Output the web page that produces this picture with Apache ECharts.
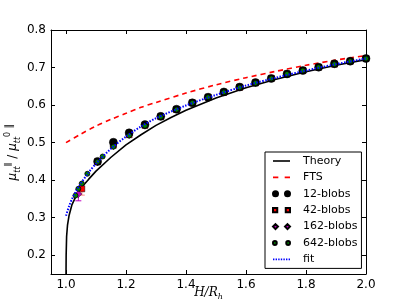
<!DOCTYPE html>
<html><head><meta charset="utf-8">
<script src="https://cdn.jsdelivr.net/npm/echarts@6/dist/echarts.min.js"></script>
<style>html,body{margin:0;padding:0;background:#fff}#c{width:407px;height:305px}</style>
</head><body><div id="c"></div>
<script>
// ---- data ----
const xTicks = [1.0, 1.2, 1.4, 1.6, 1.8, 2.0];
const yTicks = [0.2, 0.3, 0.4, 0.5, 0.6, 0.7, 0.8];

const theoryX = [1.0, 1.0005, 1.002, 1.005, 1.01, 1.02, 1.035, 1.05, 1.075, 1.1, 1.15, 1.2, 1.25, 1.3, 1.35, 1.4, 1.5, 1.6, 1.7, 1.8, 1.9, 2.0];
const theoryY = [0.14, 0.2, 0.25, 0.28, 0.305, 0.335, 0.36, 0.379, 0.402, 0.424, 0.461, 0.494, 0.521, 0.546, 0.567, 0.586, 0.619, 0.646, 0.669, 0.689, 0.706, 0.721];

const ftsX = [1.0, 1.05, 1.1, 1.15, 1.2, 1.25, 1.3, 1.4, 1.5, 1.6, 1.7, 1.8, 1.9, 2.0];
const ftsY = [0.5, 0.523, 0.544, 0.562, 0.578, 0.594, 0.607, 0.632, 0.654, 0.673, 0.690, 0.706, 0.720, 0.732];

const b12X = [1.1053, 1.1579, 1.2105, 1.2632, 1.3158, 1.3684, 1.4211, 1.4737, 1.5263, 1.5789, 1.6316, 1.6842, 1.7368, 1.7895, 1.8421, 1.8947, 1.9474, 2.0];
const b12Y = [0.450, 0.501, 0.526, 0.548, 0.570, 0.589, 0.606, 0.621, 0.635, 0.648, 0.660, 0.671, 0.683, 0.692, 0.701, 0.710, 0.717, 0.724];

const b42X = [1.0526, 1.1053, 1.1579, 1.2105, 1.2632, 1.3158, 1.3684, 1.4211, 1.4737, 1.5263, 1.5789, 1.6316, 1.6842, 1.7368, 1.7895, 1.8421, 1.8947, 1.9474, 2.0];
const b42Y = [0.377, 0.449, 0.493, 0.521, 0.546, 0.569, 0.588, 0.606, 0.621, 0.634, 0.647, 0.659, 0.671, 0.683, 0.692, 0.701, 0.709, 0.717, 0.724];
const b42ErrX = [1.0526];
const b42ErrLo = [0.360];
const b42ErrHi = [0.392];

const b162X = [1.0411, 1.1053, 1.1579, 1.2105, 1.2632, 1.3158, 1.3684, 1.4211, 1.4737, 1.5263, 1.5789, 1.6316, 1.6842, 1.7368, 1.7895, 1.8421, 1.8947, 1.9474, 2.0];
const b162Y = [0.363, 0.448, 0.491, 0.520, 0.545, 0.569, 0.588, 0.606, 0.621, 0.634, 0.647, 0.659, 0.671, 0.683, 0.692, 0.701, 0.709, 0.717, 0.724];
const b162ErrX = [1.0411];
const b162ErrLo = [0.345];
const b162ErrHi = [0.375];

const b642X = [1.0316, 1.0411, 1.0526, 1.0711, 1.1053, 1.1222, 1.1579, 1.2105, 1.2632, 1.3158, 1.3684, 1.4211, 1.4737, 1.5263, 1.5789, 1.6316, 1.6842, 1.7368, 1.7895, 1.8421, 1.8947, 1.9474, 2.0];
const b642Y = [0.359, 0.377, 0.391, 0.417, 0.449, 0.463, 0.489, 0.519, 0.545, 0.569, 0.588, 0.606, 0.621, 0.634, 0.647, 0.659, 0.671, 0.683, 0.692, 0.701, 0.709, 0.717, 0.724];

const fitX = [1.0, 1.01, 1.02, 1.035, 1.05, 1.075, 1.1, 1.15, 1.2, 1.25, 1.3, 1.4, 1.5, 1.6, 1.7, 1.8, 1.9, 2.0];
const fitY = [0.305, 0.33, 0.35, 0.373, 0.392, 0.42, 0.444, 0.484, 0.516, 0.543, 0.565, 0.599, 0.627, 0.652, 0.673, 0.692, 0.709, 0.724];

// ---- chart ----
const zip = (a, b) => a.map((v, i) => [v, b[i]]);
const zip3 = (a, b, c) => a.map((v, i) => [v, b[i], c[i]]);
const chart = echarts.init(document.getElementById('c'), null, {renderer: 'canvas'});
const FONT = 'DejaVu Sans';

function errRender(color, width) {
  return function (params, api) {
    const x = api.value(0), lo = api.value(1), hi = api.value(2);
    const p1 = api.coord([x, lo]), p2 = api.coord([x, hi]);
    const cw = 3;
    const st = {stroke: color, lineWidth: width};
    return {type: 'group', children: [
      {type: 'line', shape: {x1: p1[0], y1: p1[1], x2: p2[0], y2: p2[1]}, style: st},
      {type: 'line', shape: {x1: p1[0] - cw, y1: p1[1], x2: p1[0] + cw, y2: p1[1]}, style: st},
      {type: 'line', shape: {x1: p2[0] - cw, y1: p2[1], x2: p2[0] + cw, y2: p2[1]}, style: st}
    ]};
  };
}

const axisCommon = {
  type: 'value',
  axisLine: {show: true, onZero: false, lineStyle: {color: '#000', width: 1}},
  splitLine: {show: false},
  axisTick: {show: true, inside: true, length: 4, lineStyle: {color: '#000', width: 1}}
};

const iconLine = 'path://M0,0h17v1.6h-17z';
const iconDash = 'path://M0,0h5v1.6h-5z M11,0h5v1.6h-5z';
const iconDot = 'path://M0,0h1.4v1.6h-1.4z M2.6,0h1.4v1.6h-1.4z M5.2,0h1.4v1.6h-1.4z M7.8,0h1.4v1.6h-1.4z M10.4,0h1.4v1.6h-1.4z M13,0h1.4v1.6h-1.4z M15.6,0h1.4v1.6h-1.4z';
const iconCirc = 'path://M0,2.5a2.5,2.5 0 1,0 5,0a2.5,2.5 0 1,0 -5,0z M12,2.5a2.5,2.5 0 1,0 5,0a2.5,2.5 0 1,0 -5,0z';
const iconSq = 'path://M0.5,0.5h4v4h-4z M12.5,0.5h4v4h-4z';
const iconDia = 'path://M2.5,0l2.5,2.5l-2.5,2.5l-2.5,-2.5z M14.5,0l2.5,2.5l-2.5,2.5l-2.5,-2.5z';
const iconSmall = 'path://M1,2.5a1.7,1.7 0 1,0 3.4,0a1.7,1.7 0 1,0 -3.4,0z M13,2.5a1.7,1.7 0 1,0 3.4,0a1.7,1.7 0 1,0 -3.4,0z';

chart.setOption({
  animation: false,
  backgroundColor: '#fff',
  grid: {left: 51, right: 41, top: 30, bottom: 31, containLabel: false, outerBoundsMode: 'none'},
  xAxis: [
    Object.assign({}, axisCommon, {
      position: 'bottom', min: 0.95, max: 2.0,
      axisTick: Object.assign({}, axisCommon.axisTick, {customValues: xTicks}),
      axisLabel: {customValues: xTicks, color: '#000', fontFamily: FONT, fontSize: 12, margin: 5,
        formatter: v => v.toFixed(1)},
      name: '{i|H/R}{s|h}', nameLocation: 'middle', nameGap: 11, nameMoveOverlap: false,
      nameTextStyle: {rich: {
        i: {fontFamily: 'DejaVu Serif', fontStyle: 'italic', fontSize: 12, color: '#000', lineHeight: 16, verticalAlign: 'middle'},
        s: {fontFamily: 'DejaVu Serif', fontStyle: 'italic', fontSize: 8, color: '#000', lineHeight: 16, verticalAlign: 'bottom'}
      }}
    }),
    Object.assign({}, axisCommon, {
      position: 'top', min: 0.95, max: 2.0,
      axisTick: Object.assign({}, axisCommon.axisTick, {customValues: xTicks}),
      axisLabel: {show: false}
    })
  ],
  yAxis: [
    Object.assign({}, axisCommon, {
      position: 'left', min: 0.15, max: 0.8,
      axisTick: Object.assign({}, axisCommon.axisTick, {customValues: yTicks}),
      axisLabel: {customValues: yTicks, color: '#000', fontFamily: FONT, fontSize: 12, margin: 5,
        formatter: v => v.toFixed(1)},
      name: '{m|μ}{s|tt}{p|∥}{t| / }{m|μ}{s|tt}{p|0}{q| ∥}', nameLocation: 'middle', nameGap: 29, nameRotate: 90, nameMoveOverlap: false,
      nameTextStyle: {rich: {
        m: {fontFamily: 'DejaVu Sans', fontStyle: 'italic', fontSize: 12, color: '#000', lineHeight: 18, verticalAlign: 'middle'},
        s: {fontFamily: 'DejaVu Sans', fontStyle: 'italic', fontSize: 8, color: '#000', lineHeight: 18, verticalAlign: 'bottom'},
        p: {fontFamily: 'DejaVu Sans', fontSize: 8, color: '#000', lineHeight: 18, verticalAlign: 'top'},
        q: {fontFamily: 'DejaVu Sans', fontSize: 10, color: '#000', lineHeight: 18, verticalAlign: 'top'},
        t: {fontFamily: 'DejaVu Sans', fontSize: 12, color: '#000', lineHeight: 18, verticalAlign: 'middle'}
      }}
    }),
    Object.assign({}, axisCommon, {
      position: 'right', min: 0.15, max: 0.8,
      axisTick: Object.assign({}, axisCommon.axisTick, {customValues: yTicks}),
      axisLabel: {show: false}
    })
  ],
  legend: {
    orient: 'vertical', left: 265, top: 152,
    backgroundColor: '#fff', borderColor: '#000', borderWidth: 1, borderRadius: 0,
    padding: [2, 4, 2, 7], itemGap: 2.4, itemWidth: 17, itemHeight: 8,
    textStyle: {fontFamily: FONT, fontSize: 11, color: '#000', lineHeight: 14, padding: [0, 0, 0, 8]},
    selectedMode: false,
    data: [
      {name: 'Theory', icon: iconLine},
      {name: 'FTS', icon: iconDash},
      {name: '12-blobs', icon: iconCirc},
      {name: '42-blobs', icon: iconSq},
      {name: '162-blobs', icon: iconDia},
      {name: '642-blobs', icon: iconSmall},
      {name: 'fit', icon: iconDot}
    ]
  },
  series: [
    {name: 'Theory', type: 'line', data: zip(theoryX, theoryY), showSymbol: false, symbolKeepAspect: true,
      color: '#000', lineStyle: {color: '#000', width: 1.6}, itemStyle: {color: '#000'}, z: 2},
    {name: 'FTS', type: 'line', data: zip(ftsX, ftsY), showSymbol: false, smooth: 0.3, symbolKeepAspect: true,
      color: '#ff0000', lineStyle: {color: '#ff0000', width: 1.6, type: [5, 4]}, itemStyle: {color: '#ff0000'}, z: 2},
    {name: 'err42', type: 'custom', data: zip3(b42ErrX, b42ErrLo, b42ErrHi), renderItem: errRender('rgba(255,80,80,0.45)', 1.5), z: 3},
    {name: 'err162', type: 'custom', data: zip3(b162ErrX, b162ErrLo, b162ErrHi), renderItem: errRender('#bf00bf', 1), z: 3},
    {name: '42-blobs', type: 'scatter', data: zip(b42X, b42Y), symbol: 'rect', symbolSize: 6, symbolKeepAspect: true,
      itemStyle: {color: '#ff0000', borderColor: '#000', borderWidth: 0.5, opacity: 1}, z: 4},
    {name: '162-blobs', type: 'scatter', data: zip(b162X, b162Y), symbol: 'diamond', symbolSize: 7, symbolKeepAspect: true,
      itemStyle: {color: '#bf00bf', borderColor: '#000', borderWidth: 0.5, opacity: 1}, z: 4},
    {name: '12-blobs', type: 'scatter', data: zip(b12X, b12Y), symbol: 'circle', symbolSize: 8, symbolKeepAspect: true,
      itemStyle: {color: '#000', borderColor: '#000', borderWidth: 0.5, opacity: 1}, z: 4},
    {name: '642-blobs', type: 'scatter', data: zip(b642X, b642Y), symbol: 'circle', symbolSize: 5, symbolKeepAspect: true,
      itemStyle: {color: '#008000', borderColor: '#000', borderWidth: 0.8, opacity: 1}, z: 4},
    {name: 'fit', type: 'line', data: zip(fitX, fitY), showSymbol: false, smooth: 0.3, symbolKeepAspect: true,
      color: '#0000ff', lineStyle: {color: '#0000ff', width: 2, type: [1.5, 1.5]}, itemStyle: {color: '#0000ff'}, z: 5}
  ]
});
</script>
</body></html>
